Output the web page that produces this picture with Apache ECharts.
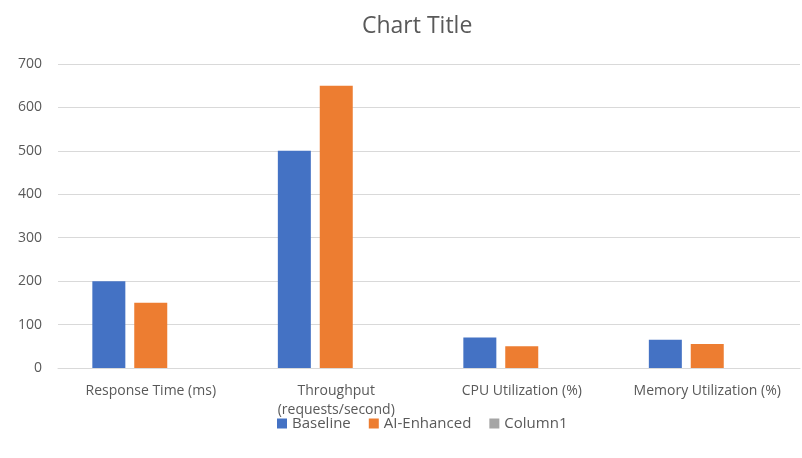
<!DOCTYPE html>
<html>
<head>
<meta charset="utf-8">
<script src="https://cdn.jsdelivr.net/npm/echarts@6/dist/echarts.min.js"></script>
<style>
  html, body { margin: 0; padding: 0; background: #fff; }
  #main { width: 802px; height: 458px; }
</style>
</head>
<body>
<div id="main"></div>
<script>
// chart data
var categories = ['Response Time (ms)', 'Throughput\n(requests/second)', 'CPU Utilization (%)', 'Memory Utilization (%)'];
var baseline = [200, 500, 70, 65];
var aiEnhanced = [150, 650, 50, 55];
var column1 = [null, null, null, null];
var yTicks = [0, 100, 200, 300, 400, 500, 600, 700];

var chart = echarts.init(document.getElementById('main'));

var textColor = '#595959';
var font = '"Open Sans", "Noto Sans", sans-serif';

var option = {
  animation: false,
  title: {
    text: 'Chart Title',
    left: 357,
    top: 10,
    textStyle: { color: textColor, fontSize: 23, fontWeight: 'normal', fontFamily: font }
  },
  color: ['#4472C4', '#ED7D31', '#A5A5A5'],
  legend: {
    bottom: 22,
    left: 272,
    itemWidth: 10,
    itemHeight: 10,
    itemGap: 18,
    icon: 'rect',
    textStyle: { color: textColor, fontSize: 15, fontFamily: font },
    data: ['Baseline', 'AI-Enhanced', 'Column1']
  },
  grid: { left: 58, right: 2, top: 64, bottom: 90 },
  xAxis: {
    type: 'category',
    data: categories,
    axisLine: { lineStyle: { color: '#d9d9d9' } },
    axisTick: { show: false },
    axisLabel: { color: textColor, fontSize: 14, fontFamily: font, interval: 0, margin: 14, lineHeight: 19 }
  },
  yAxis: {
    type: 'value',
    min: yTicks[0],
    max: yTicks[yTicks.length - 1],
    interval: 100,
    axisLine: { show: false },
    axisTick: { show: false },
    splitLine: { lineStyle: { color: '#d9d9d9' } },
    axisLabel: { color: textColor, fontSize: 14, fontFamily: font, margin: 16 }
  },
  series: [
    { name: 'Baseline', type: 'bar', data: baseline, barWidth: 33, barGap: '27%' },
    { name: 'AI-Enhanced', type: 'bar', data: aiEnhanced, barWidth: 33, barGap: '27%' },
    { name: 'Column1', type: 'bar', data: column1, barWidth: 33, barGap: '27%' }
  ]
};

chart.setOption(option);
</script>
</body>
</html>
